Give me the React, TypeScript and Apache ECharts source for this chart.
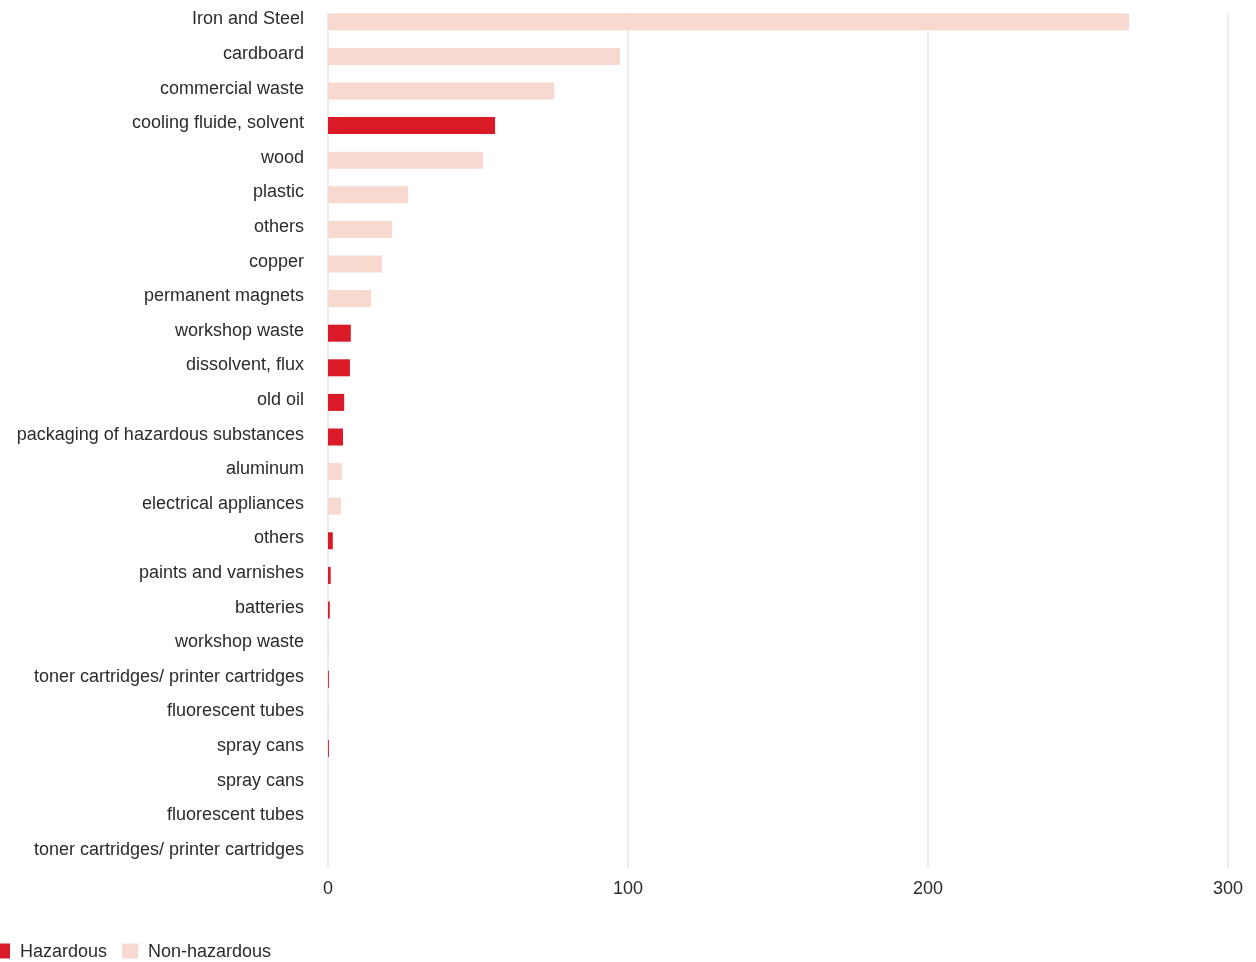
import React, { useEffect, useRef } from "react";
import * as echarts from "echarts";

const categories = [
  "Iron and Steel",
  "cardboard",
  "commercial waste",
  "cooling fluide, solvent",
  "wood",
  "plastic",
  "others",
  "copper",
  "permanent magnets",
  "workshop waste",
  "dissolvent, flux",
  "old oil",
  "packaging of hazardous substances",
  "aluminum",
  "electrical appliances",
  "others",
  "paints and varnishes",
  "batteries",
  "workshop waste",
  "toner cartridges/ printer cartridges",
  "fluorescent tubes",
  "spray cans",
  "spray cans",
  "fluorescent tubes",
  "toner cartridges/ printer cartridges",
];

const hazardous: (number | null)[] = [
  null, null, null, 55.7, null, null, null, null, null, 7.6, 7.3, 5.4, 5.0,
  null, null, 1.6, 0.9, 0.6, null, 0.3, null, 0.3, null, 0, null,
];

const nonHazardous: (number | null)[] = [
  267, 97.3, 75.4, null, 51.7, 26.7, 21.4, 18.0, 14.4, null, null, null, null,
  4.6, 4.3, null, null, null, 0.2, null, 0.2, null, 0, null, 0,
];

const xTicks = { min: 0, max: 300, interval: 100 };

const RED = "#DA1A27";
const PINK = "#F8D9CF";
const FONT = "'Liberation Sans', Arial, sans-serif";
const TEXT = "#2b2b2b";

export default function App() {
  const ref = useRef<HTMLDivElement>(null);
  useEffect(() => {
    if (!ref.current) return;
    const chart = echarts.init(ref.current, undefined, { renderer: "svg" });
    chart.setOption({
      animation: false,
      textStyle: { fontFamily: FONT },
      grid: [
        { left: 328, width: 900, top: 4.5, height: 865 },
        { left: 328, width: 900, top: 13, height: 855 },
      ],
      xAxis: [
        {
          gridIndex: 0,
          type: "value",
          min: xTicks.min,
          max: xTicks.max,
          interval: xTicks.interval,
          axisLabel: { show: false },
          axisLine: { show: false },
          axisTick: { show: false },
          splitLine: { show: false },
        },
        {
          gridIndex: 1,
          type: "value",
          min: xTicks.min,
          max: xTicks.max,
          interval: xTicks.interval,
          axisLabel: { color: TEXT, fontSize: 18, margin: 11, fontFamily: FONT },
          axisLine: { show: false },
          axisTick: { show: false },
          splitLine: { show: true, lineStyle: { color: "#ebebeb", width: 2 } },
          z: 0,
        },
      ],
      yAxis: [
        {
          gridIndex: 0,
          type: "category",
          inverse: true,
          data: categories,
          axisLine: { show: false },
          axisTick: { show: false },
          axisLabel: {
            color: TEXT,
            fontSize: 18,
            margin: 24,
            fontFamily: FONT,
            verticalAlign: "bottom",
            lineHeight: 7,
          },
        },
        {
          gridIndex: 1,
          type: "category",
          data: categories,
          show: false,
        },
      ],
      legend: {
        left: -6,
        top: 942,
        padding: 0,
        itemWidth: 16,
        itemHeight: 15,
        itemGap: 15,
        icon: "rect",
        textStyle: { color: TEXT, fontSize: 18, fontFamily: FONT, padding: [0, 0, 0, 5] },
        data: ["Hazardous", "Non-hazardous"],
      },
      series: [
        {
          name: "Hazardous",
          type: "bar",
          xAxisIndex: 0,
          yAxisIndex: 0,
          data: hazardous,
          barWidth: 17,
          barGap: "-100%",
          itemStyle: { color: RED },
          z: 3,
        },
        {
          name: "Non-hazardous",
          type: "bar",
          xAxisIndex: 0,
          yAxisIndex: 0,
          data: nonHazardous,
          barWidth: 17,
          barGap: "-100%",
          itemStyle: { color: PINK },
          z: 3,
        },
      ],
    });
    return () => chart.dispose();
  }, []);
  return (
    <div
      ref={ref}
      style={{ position: "fixed", left: 0, top: 0, width: 1256, height: 962 }}
    />
  );
}
